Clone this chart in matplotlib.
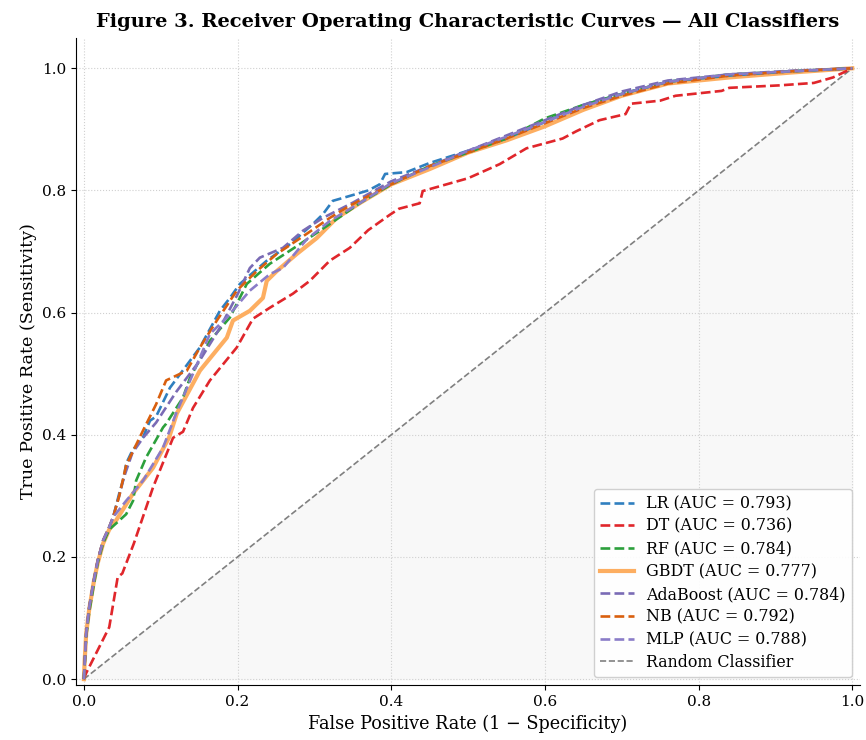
import matplotlib
matplotlib.use("Agg")
import matplotlib.pyplot as plt

plt.rcParams['font.family'] = ['DejaVu Serif']

# ROC points (fpr, tpr)
lr_fpr = [0, 0.003, 0.007, 0.013, 0.018, 0.025, 0.033, 0.038, 0.046, 0.052, 0.055, 0.063, 0.077, 0.086,
          0.094, 0.112, 0.151, 0.177, 0.19, 0.203, 0.238, 0.268, 0.298, 0.311, 0.324, 0.346, 0.37,
          0.385, 0.392, 0.42, 0.45, 0.50, 0.55, 0.60, 0.65, 0.70, 0.76, 0.84, 0.92, 1.0]
lr_tpr = [0, 0.075, 0.118, 0.162, 0.194, 0.227, 0.249, 0.265, 0.304, 0.33, 0.353, 0.374, 0.396, 0.423,
          0.43, 0.477, 0.543, 0.603, 0.624, 0.647, 0.685, 0.712, 0.745, 0.761, 0.783, 0.791, 0.80,
          0.81, 0.827, 0.83, 0.845, 0.865, 0.885, 0.912, 0.94, 0.958, 0.978, 0.988, 0.995, 1.0]

dt_fpr = [0, 0.003, 0.033, 0.044, 0.05, 0.065, 0.09, 0.116, 0.129, 0.142, 0.164, 0.199, 0.22, 0.242,
          0.272, 0.294, 0.32, 0.346, 0.37, 0.398, 0.41, 0.437, 0.441, 0.50, 0.541, 0.576, 0.623, 0.641,
          0.671, 0.705, 0.712, 0.75, 0.77, 0.83, 0.84, 0.905, 0.95, 0.975, 1.0]
dt_tpr = [0, 0.01, 0.085, 0.167, 0.173, 0.222, 0.314, 0.395, 0.405, 0.444, 0.489, 0.543, 0.59, 0.608,
          0.631, 0.652, 0.685, 0.706, 0.735, 0.76, 0.77, 0.779, 0.799, 0.82, 0.843, 0.869, 0.885, 0.897,
          0.915, 0.925, 0.942, 0.947, 0.955, 0.963, 0.968, 0.972, 0.976, 0.985, 1.0]

rf_fpr = [0, 0.003, 0.007, 0.013, 0.018, 0.025, 0.033, 0.042, 0.055, 0.064, 0.068, 0.081, 0.103, 0.107,
          0.129, 0.138, 0.164, 0.19, 0.212, 0.242, 0.281, 0.32, 0.36, 0.40, 0.45, 0.50, 0.55, 0.60,
          0.65, 0.70, 0.76, 0.84, 0.92, 1.0]
rf_tpr = [0, 0.07, 0.11, 0.155, 0.19, 0.222, 0.245, 0.255, 0.27, 0.292, 0.325, 0.363, 0.412, 0.418,
          0.461, 0.493, 0.554, 0.592, 0.647, 0.68, 0.712, 0.745, 0.78, 0.81, 0.84, 0.862, 0.885, 0.918,
          0.94, 0.958, 0.978, 0.99, 0.995, 1.0]

gbdt_fpr = [0, 0.001, 0.003, 0.007, 0.013, 0.018, 0.025, 0.033, 0.042, 0.064, 0.09, 0.111, 0.121, 0.151,
            0.186, 0.194, 0.216, 0.233, 0.238, 0.251, 0.277, 0.303, 0.329, 0.36, 0.40, 0.45, 0.50, 0.55,
            0.60, 0.65, 0.70, 0.76, 0.84, 0.92, 1.0]
gbdt_tpr = [0, 0.03, 0.075, 0.115, 0.16, 0.19, 0.222, 0.245, 0.26, 0.304, 0.346, 0.396, 0.435, 0.505,
            0.559, 0.587, 0.603, 0.624, 0.652, 0.668, 0.696, 0.722, 0.755, 0.78, 0.81, 0.835, 0.862, 0.882,
            0.905, 0.932, 0.955, 0.975, 0.985, 0.993, 1.0]

ada_fpr = [0, 0.003, 0.007, 0.013, 0.018, 0.025, 0.033, 0.038, 0.046, 0.052, 0.063, 0.077, 0.094, 0.107,
           0.12, 0.15, 0.177, 0.20, 0.216, 0.229, 0.259, 0.285, 0.311, 0.35, 0.40, 0.45, 0.50, 0.55,
           0.60, 0.65, 0.70, 0.76, 0.84, 0.92, 1.0]
ada_tpr = [0, 0.075, 0.118, 0.162, 0.194, 0.227, 0.249, 0.265, 0.30, 0.33, 0.37, 0.395, 0.42, 0.445,
           0.47, 0.52, 0.575, 0.63, 0.673, 0.69, 0.706, 0.734, 0.755, 0.78, 0.815, 0.84, 0.865, 0.89,
           0.915, 0.94, 0.962, 0.98, 0.99, 0.996, 1.0]

nb_fpr = [0, 0.003, 0.007, 0.013, 0.018, 0.025, 0.033, 0.038, 0.046, 0.055, 0.077, 0.094, 0.107, 0.134,
          0.151, 0.173, 0.199, 0.225, 0.251, 0.29, 0.32, 0.346, 0.40, 0.45, 0.50, 0.55, 0.60, 0.65,
          0.70, 0.76, 0.84, 0.92, 1.0]
nb_tpr = [0, 0.075, 0.118, 0.162, 0.194, 0.227, 0.249, 0.265, 0.30, 0.35, 0.407, 0.45, 0.489, 0.505,
          0.543, 0.587, 0.636, 0.668, 0.696, 0.729, 0.755, 0.775, 0.81, 0.84, 0.862, 0.885, 0.91, 0.935,
          0.955, 0.975, 0.988, 0.995, 1.0]

mlp_fpr = [0, 0.003, 0.007, 0.013, 0.018, 0.025, 0.033, 0.038, 0.055, 0.077, 0.103, 0.12, 0.164, 0.186,
           0.216, 0.242, 0.259, 0.29, 0.32, 0.36, 0.40, 0.45, 0.50, 0.55, 0.60, 0.65, 0.70, 0.76,
           0.84, 0.92, 1.0]
mlp_tpr = [0, 0.075, 0.118, 0.162, 0.194, 0.227, 0.249, 0.265, 0.292, 0.325, 0.379, 0.435, 0.565, 0.592,
           0.636, 0.663, 0.673, 0.72, 0.75, 0.78, 0.812, 0.838, 0.865, 0.888, 0.912, 0.937, 0.958, 0.978,
           0.99, 0.995, 1.0]

names = ["LR", "DT", "RF", "GBDT", "AdaBoost", "NB", "MLP"]
aucs = [0.793, 0.736, 0.784, 0.777, 0.784, 0.792, 0.788]
curves = [(lr_fpr, lr_tpr), (dt_fpr, dt_tpr), (rf_fpr, rf_tpr), (gbdt_fpr, gbdt_tpr),
          (ada_fpr, ada_tpr), (nb_fpr, nb_tpr), (mlp_fpr, mlp_tpr)]
colors = ["#2f7fbf", "#e0262b", "#2ca03c", "#fdae61", "#7a6bb5", "#d95f0e", "#8a7cc8"]

fig = plt.figure(figsize=(8.66, 7.4), dpi=100)
ax = fig.add_axes([0.088, 0.074, 0.905, 0.875])

ax.fill_between([0, 1], [0, 0], [0, 1], color="#f8f8f8", zorder=0)

for name, auc, (fpr, tpr), c in zip(names, aucs, curves, colors):
    if name == "GBDT":
        ax.plot(fpr, tpr, color=c, lw=3, label=f"{name} (AUC = {auc:.3f})", zorder=2)
    else:
        ax.plot(fpr, tpr, color=c, lw=1.9, ls="--", label=f"{name} (AUC = {auc:.3f})", zorder=3)

ax.plot([0, 1], [0, 1], color="gray", lw=1.2, ls="--", label="Random Classifier", zorder=1)

ax.set_xlim(-0.01, 1.01)
ax.set_ylim(-0.01, 1.05)
ax.set_xticks([0, 0.2, 0.4, 0.6, 0.8, 1.0])
ax.set_yticks([0, 0.2, 0.4, 0.6, 0.8, 1.0])
ax.tick_params(labelsize=11)
ax.grid(True, ls=":", color="#d0d0d0", lw=0.8)
ax.set_axisbelow(True)
for s in ["top", "right"]:
    ax.spines[s].set_visible(False)

ax.set_xlabel("False Positive Rate (1 \u2212 Specificity)", fontsize=12.7)
ax.set_ylabel("True Positive Rate (Sensitivity)", fontsize=12.6)
ax.set_title("Figure 3. Receiver Operating Characteristic Curves \u2014 All Classifiers",
             fontsize=14, fontweight="bold", pad=8)
ax.legend(loc="lower right", fontsize=11.4, framealpha=0.9, labelspacing=0.36,
          handlelength=2.1, borderaxespad=0.5)

fig.savefig("out.png", dpi=100)
